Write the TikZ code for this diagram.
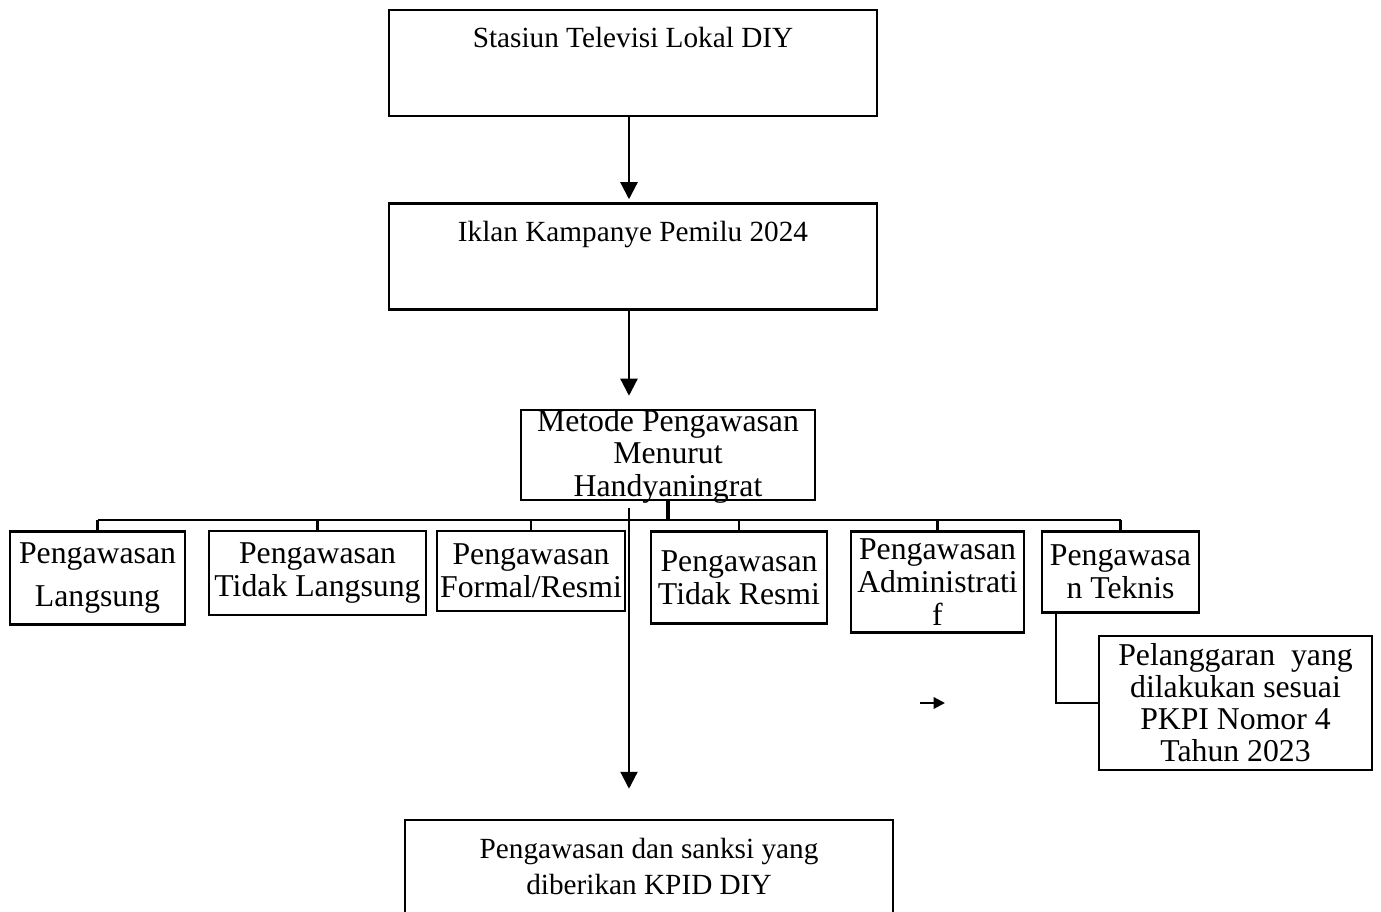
\documentclass[tikz,border=0pt]{standalone}
\usepackage{fontspec}
\setmainfont{Liberation Serif}
\usetikzlibrary{arrows.meta}

\begin{document}
\begin{tikzpicture}[x=0.4pt, y=-0.4pt,
        judul/.style={draw, line width=1pt, inner sep=0pt, minimum width=195.2pt,
                      align=center, font=\fontsize{11.7}{14.4}\selectfont,
                      text height=15.2pt, text depth=27.2pt},
        tengah/.style={draw, line width=1pt, inner sep=0pt, align=center,
                       font=\fontsize{12.7}{13.2}\selectfont},
        arr/.style={-{Triangle[length=6.8pt, width=6.8pt]}, line width=0.9pt},
        kecil/.style={-{Triangle[length=4.6pt, width=4.6pt]}, line width=0.9pt},
        garis/.style={line width=0.9pt}
    ]
        \useasboundingbox (0,0) rectangle (1381,912);

        \node[judul] (stasiun) at (633,63) {Stasiun Televisi Lokal DIY};
        \node[judul] (iklan) at (633,256.5) {Iklan Kampanye Pemilu 2024};
        \node[tengah, minimum width=117.6pt, minimum height=36pt,
              text height=34.8pt, text depth=1.2pt] (metode) at (668,455)
            {Metode Pengawasan\\Menurut\\Handyaningrat};

        \node[tengah, minimum width=70pt, minimum height=37.2pt] (langsung) at (97.5,578)
            {Pengawasan\\[4pt]Langsung};
        \node[tengah, minimum width=86.8pt, minimum height=33.6pt] (tidaklangsung) at (317.5,573)
            {Pengawasan\\Tidak Langsung};
        \node[tengah, minimum width=75.2pt, minimum height=32pt] (formal) at (531,571)
            {Pengawasan\\Formal/Resmi};
        \node[tengah, minimum width=70.4pt, minimum height=36.8pt] (tidakresmi) at (739,577.5)
            {Pengawasan\\Tidak Resmi};
        \node[tengah, minimum width=69.2pt, minimum height=40.4pt] (administratif) at (937.5,582)
            {Pengawasan\\Administrati\\f};
        \node[tengah, minimum width=62.8pt, minimum height=32.4pt] (teknis) at (1120.5,572)
            {Pengawasa\\n Teknis};
        \node[tengah, minimum width=109.2pt, minimum height=53.6pt,
              font=\fontsize{12.7}{12.8}\selectfont] (pelanggaran) at (1235.5,703)
            {Pelanggaran\ \ yang\\dilakukan sesuai\\PKPI Nomor 4\\Tahun 2023};

        \node[judul, text height=29.6pt, text depth=14.4pt] (sanksi) at (649,875)
            {Pengawasan dan sanksi yang\\diberikan KPID DIY};

        \coordinate (poros) at (629,508);
        \coordinate (cabang) at (0,520);
        \coordinate (panah) at (920,703);

        % alur utama
        \draw[arr, shorten >=1.2pt] (stasiun.south -| poros) -- (iklan.north -| poros);
        \draw[arr, shorten >=5.2pt] (iklan.south -| poros) -- (metode.north -| poros);
        \draw[line width=1.4pt] (metode.south) -- (metode.south |- cabang);
        \draw[garis] (langsung.north |- cabang) -- (teknis.north |- cabang);
        \foreach \b in {langsung, tidaklangsung, formal, tidakresmi, administratif, teknis}
            \draw[garis] (\b.north |- cabang) -- (\b.north);
        \draw[arr, shorten >=12pt] (poros) -- (poros |- sanksi.north);

        \draw[garis] (teknis.south west) ++(15,0) |- (pelanggaran.west);
        \draw[kecil] (panah) -- ++(25,0);
    \end{tikzpicture}
\end{document}
